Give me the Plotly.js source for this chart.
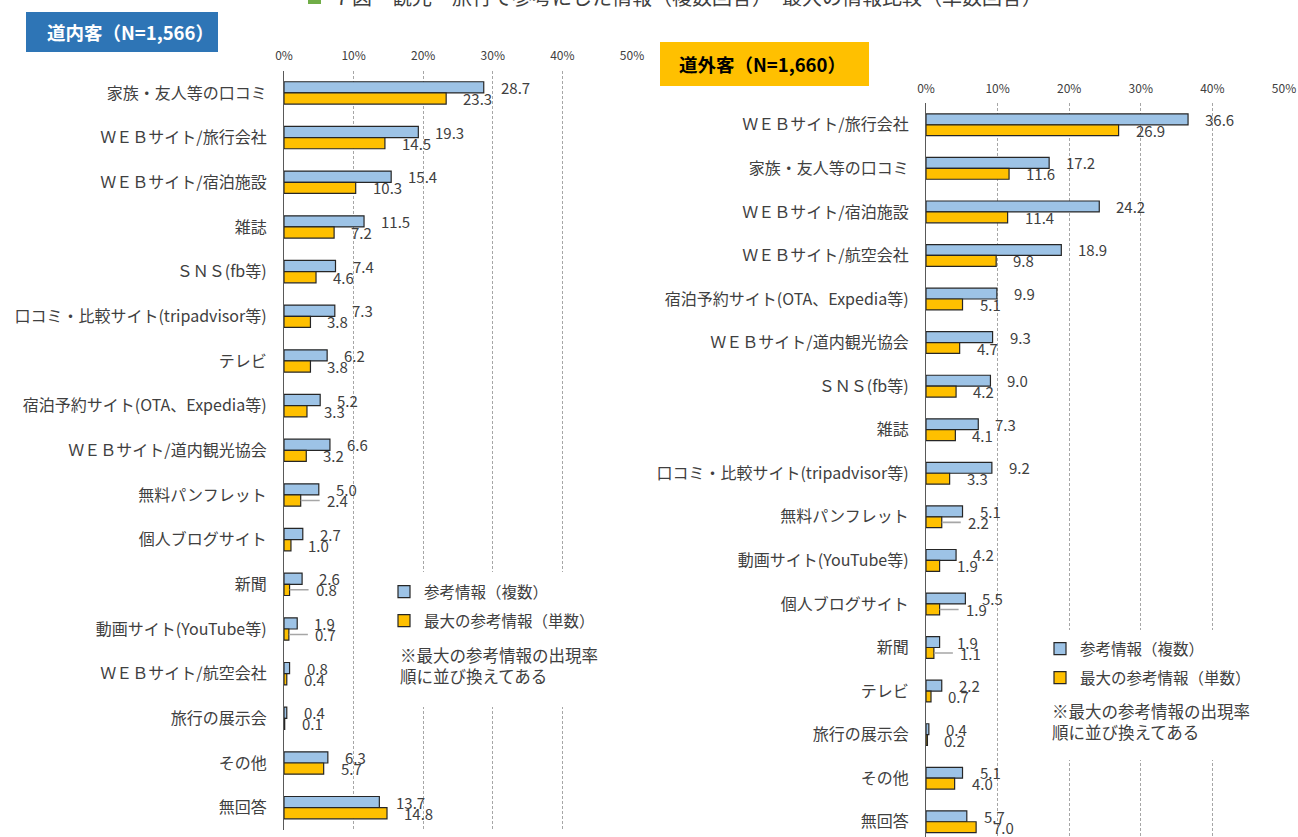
<!DOCTYPE html>
<html><head><meta charset="utf-8">
<script src="https://cdn.plot.ly/plotly-3.0.1.min.js"></script>
<style>html,body{margin:0;padding:0;background:#fff}#chart{width:1298px;height:837px}</style>
</head><body><div id="chart"></div>
<script>
// ---- data ----
const chartTitle = '７図　観光・旅行で参考にした情報（複数回答）・最大の情報比較（単数回答）';
const panelIn = '道内客（N=1,566）';
const panelOut = '道外客（N=1,660）';
const seriesNames = ['参考情報（複数）', '最大の参考情報（単数）'];
const noteText = '※最大の参考情報の出現率<br>順に並び換えてある';
const tickVals = [0, 10, 20, 30, 40, 50];
const tickText = ['0%', '10%', '20%', '30%', '40%', '50%'];

const catsIn = ['家族・友人等の口コミ', 'ＷＥＢサイト/旅行会社', 'ＷＥＢサイト/宿泊施設', '雑誌', 'ＳＮＳ(fb等)',
  '口コミ・比較サイト(tripadvisor等)', 'テレビ', '宿泊予約サイト(OTA、Expedia等)', 'ＷＥＢサイト/道内観光協会',
  '無料パンフレット', '個人ブログサイト', '新聞', '動画サイト(YouTube等)', 'ＷＥＢサイト/航空会社', '旅行の展示会',
  'その他', '無回答'];
const multiIn  = [28.7, 19.3, 15.4, 11.5, 7.4, 7.3, 6.2, 5.2, 6.6, 5.0, 2.7, 2.6, 1.9, 0.8, 0.4, 6.3, 13.7];
const singleIn = [23.3, 14.5, 10.3, 7.2, 4.6, 3.8, 3.8, 3.3, 3.2, 2.4, 1.0, 0.8, 0.7, 0.4, 0.1, 5.7, 14.8];
const leaderIn = ['無料パンフレット', '新聞', '動画サイト(YouTube等)'];   // single-answer labels with leader lines

const catsOut = ['ＷＥＢサイト/旅行会社', '家族・友人等の口コミ', 'ＷＥＢサイト/宿泊施設', 'ＷＥＢサイト/航空会社',
  '宿泊予約サイト(OTA、Expedia等)', 'ＷＥＢサイト/道内観光協会', 'ＳＮＳ(fb等)', '雑誌',
  '口コミ・比較サイト(tripadvisor等)', '無料パンフレット', '動画サイト(YouTube等)', '個人ブログサイト', '新聞',
  'テレビ', '旅行の展示会', 'その他', '無回答'];
const multiOut  = [36.6, 17.2, 24.2, 18.9, 9.9, 9.3, 9.0, 7.3, 9.2, 5.1, 4.2, 5.5, 1.9, 2.2, 0.4, 5.1, 5.7];
const singleOut = [26.9, 11.6, 11.4, 9.8, 5.1, 4.7, 4.2, 4.1, 3.3, 2.2, 1.9, 1.9, 1.1, 0.7, 0.2, 4.0, 7.0];
const leaderOut = ['無料パンフレット', '個人ブログサイト', '新聞'];

// ---- style ----
const W = 1298, H = 837;
const BLUE = '#9DC3E6', YELLOW = '#FFC000', EDGE = '#262626', TXT = '#404040';
const FONT = '"Noto Sans CJK JP", "Noto Sans", sans-serif';
const px = v => v / W;
const py = v => (H - v) / H;

function bar(x, y, color, name, xa, ya, leg, grp) {
  return {type: 'bar', orientation: 'h', x: x, y: y, name: name, xaxis: xa, yaxis: ya,
    legend: leg, legendgroup: grp,
    marker: {color: color, line: {color: EDGE, width: 1.2}},
    hovertemplate: '%{y}: %{x}<extra>' + name + '</extra>'};
}

const data = [
  bar(multiIn, catsIn, BLUE, seriesNames[0], 'x', 'y', 'legend', 'a'),
  bar(singleIn, catsIn, YELLOW, seriesNames[1], 'x', 'y', 'legend', 'b'),
  bar(multiOut, catsOut, BLUE, seriesNames[0], 'x2', 'y2', 'legend2', 'c'),
  bar(singleOut, catsOut, YELLOW, seriesNames[1], 'x2', 'y2', 'legend2', 'd')
];

function xax(domain, anchor) {
  return {domain: domain, anchor: anchor, side: 'top', range: [0, 50], tickvals: tickVals, ticktext: tickText,
    showgrid: true, gridcolor: '#a6a6a6', griddash: '3px,2px', gridwidth: 1, zeroline: false, showline: false,
    ticks: '', ticklabelstandoff: 7, tickfont: {size: 12, color: TXT, family: FONT}, automargin: false, fixedrange: true};
}
function yax(domain, anchor, cats, range) {
  return {domain: domain, anchor: anchor, type: 'category', categoryorder: 'array', categoryarray: cats,
    range: range, showgrid: false, zeroline: false, showline: true, linecolor: '#595959', linewidth: 1.3,
    ticks: '', ticklabelstandoff: 13, tickfont: {size: 16, color: TXT, family: FONT}, automargin: false, fixedrange: true};
}

const annotations = [];
const labFont = {size: 15, color: TXT, family: FONT};
function labels(vals, cats, xr, yr, shift, leaders) {
  vals.forEach((v, i) => {
    const a = {xref: xr, yref: yr, x: v, y: cats[i], text: v.toFixed(1),
      xanchor: 'left', yanchor: 'middle', yshift: shift, font: labFont};
    if (leaders && leaders.indexOf(cats[i]) >= 0) {
      Object.assign(a, {showarrow: true, arrowhead: 0, arrowwidth: 1.6, arrowcolor: '#a6a6a6',
        ax: 24, ay: 0, standoff: 0, startstandoff: 5});
    } else {
      Object.assign(a, {showarrow: false, xshift: 15});
    }
    annotations.push(a);
  });
}
labels(multiIn, catsIn, 'x', 'y', 5.5, null);
labels(singleIn, catsIn, 'x', 'y', -5.5, leaderIn);
labels(multiOut, catsOut, 'x2', 'y2', 5.5, null);
labels(singleOut, catsOut, 'x2', 'y2', -5.5, leaderOut);

annotations.push(
  {xref: 'paper', yref: 'paper', x: px(130), y: py(32), text: '<b>' + panelIn + '</b>', showarrow: false,
   xanchor: 'center', yanchor: 'middle', font: {size: 18.5, color: '#ffffff', family: FONT}},
  {xref: 'paper', yref: 'paper', x: px(762), y: py(64), text: '<b>' + panelOut + '</b>', showarrow: false,
   xanchor: 'center', yanchor: 'middle', font: {size: 18.5, color: '#000000', family: FONT}},
  {xref: 'paper', yref: 'paper', x: px(330), y: py(-4), text: chartTitle, showarrow: false,
   xanchor: 'left', yanchor: 'middle', font: {size: 20, color: TXT, family: FONT}},
  {xref: 'paper', yref: 'paper', x: px(398), y: py(641), text: noteText, showarrow: false, align: 'left',
   xanchor: 'left', yanchor: 'top', font: {size: 16.5, color: TXT, family: FONT}},
  {xref: 'paper', yref: 'paper', x: px(1050), y: py(697), text: noteText, showarrow: false, align: 'left',
   xanchor: 'left', yanchor: 'top', font: {size: 16.5, color: TXT, family: FONT}}
);

const shapes = [
  {type: 'rect', xref: 'paper', yref: 'paper', x0: px(26), x1: px(218), y0: py(52), y1: py(12),
   fillcolor: '#2E75B6', line: {width: 0}},
  {type: 'rect', xref: 'paper', yref: 'paper', x0: px(660), x1: px(869), y0: py(86), y1: py(42),
   fillcolor: YELLOW, line: {width: 0}},
  {type: 'rect', xref: 'paper', yref: 'paper', x0: px(308), x1: px(321), y0: py(4), y1: py(-10),
   fillcolor: '#70AD47', line: {width: 0}},
  {type: 'rect', xref: 'paper', yref: 'paper', x0: px(398), x1: px(642), y0: py(707), y1: py(572),
   fillcolor: '#ffffff', line: {width: 0}, layer: 'above'},
  {type: 'rect', xref: 'paper', yref: 'paper', x0: px(1045), x1: px(1298), y0: py(760), y1: py(630),
   fillcolor: '#ffffff', line: {width: 0}, layer: 'above'}
];

const legFont = {size: 15.5, color: TXT, family: FONT};
const layout = {
  width: W, height: H, margin: {l: 0, r: 0, t: 0, b: 0},
  paper_bgcolor: '#ffffff', plot_bgcolor: 'rgba(0,0,0,0)',
  font: {family: FONT, color: TXT},
  barmode: 'group', bargap: 0.5, bargroupgap: 0,
  xaxis: xax([px(284), px(632)], 'y'),
  yaxis: yax([7 / H, (H - 70.6) / H], 'x', catsIn, [16.5, -0.5]),
  xaxis2: xax([px(926), px(1284)], 'y2'),
  yaxis2: yax([0, (H - 103) / H], 'x2', catsOut, [16.35, -0.5]),
  showlegend: true,
  legend: {x: px(384), y: py(575), xanchor: 'left', yanchor: 'top', bgcolor: 'rgba(0,0,0,0)',
    font: legFont, traceorder: 'grouped', tracegroupgap: 6, itemclick: false, itemdoubleclick: false},
  legend2: {x: px(1040), y: py(632), xanchor: 'left', yanchor: 'top', bgcolor: 'rgba(0,0,0,0)',
    font: legFont, traceorder: 'grouped', tracegroupgap: 6, itemclick: false, itemdoubleclick: false},
  annotations: annotations,
  shapes: shapes
};

Plotly.newPlot('chart', data, layout, {displayModeBar: false, responsive: false});
</script>
</body></html>
